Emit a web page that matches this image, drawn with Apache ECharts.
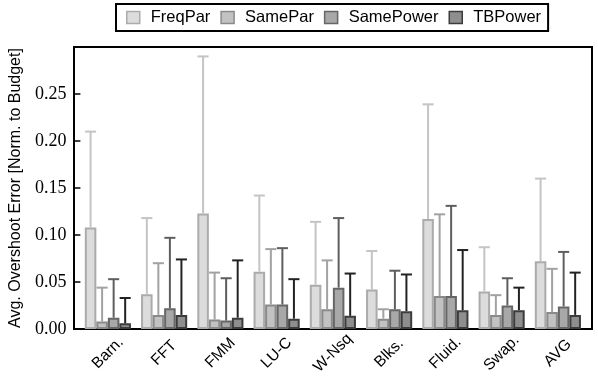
<!DOCTYPE html>
<html>
<head>
<meta charset="utf-8">
<script src="https://cdn.jsdelivr.net/npm/echarts@6/dist/echarts.min.js"></script>
<style>
html,body{margin:0;padding:0;background:#fff;}
#c{width:598px;height:388px;}
</style>
</head>
<body>
<div id="c"></div>
<script>
const categories = ['Barn.', 'FFT', 'FMM', 'LU-C', 'W-Nsq', 'Blks.', 'Fluid.', 'Swap.', 'AVG'];
const seriesNames = ['FreqPar', 'SamePar', 'SamePower', 'TBPower'];
const freqPar        = [0.108, 0.037, 0.123, 0.061, 0.047, 0.042, 0.117, 0.040, 0.072];
const freqParUpper   = [0.210, 0.118, 0.290, 0.142, 0.114, 0.083, 0.239, 0.087, 0.160];
const samePar        = [0.008, 0.015, 0.010, 0.026, 0.021, 0.011, 0.035, 0.015, 0.018];
const sameParUpper   = [0.044, 0.070, 0.060, 0.085, 0.073, 0.021, 0.122, 0.036, 0.064];
const samePower      = [0.012, 0.022, 0.009, 0.026, 0.044, 0.021, 0.035, 0.025, 0.024];
const samePowerUpper = [0.053, 0.097, 0.054, 0.086, 0.118, 0.062, 0.131, 0.054, 0.082];
const tbPower        = [0.006, 0.015, 0.012, 0.011, 0.014, 0.019, 0.020, 0.020, 0.015];
const tbPowerUpper   = [0.033, 0.074, 0.073, 0.053, 0.059, 0.058, 0.084, 0.044, 0.060];
const yTicks = [0, 0.05, 0.10, 0.15, 0.20, 0.25, 0.30];

const values = [freqPar, samePar, samePower, tbPower];
const uppers = [freqParUpper, sameParUpper, samePowerUpper, tbPowerUpper];
const fills = ['#dcdcdc', '#c2c2c2', '#a8a8a8', '#8e8e8e'];
const borders = ['#ababab', '#8a8a8a', '#666666', '#3c3c3c'];
const errColors = ['#c4c4c4', '#a2a2a2', '#5e5e5e', '#222222'];
const CAT_GAP = 0.18;
const SANS = '"Liberation Sans", Arial, sans-serif';
const SERIF = '"Liberation Serif", "Times New Roman", serif';

const series = [];
seriesNames.forEach((name, k) => {
  series.push({
    name: name,
    type: 'bar',
    xAxisIndex: 1, yAxisIndex: 1,
    data: values[k],
    barGap: '0%',
    barCategoryGap: (CAT_GAP * 100) + '%',
    itemStyle: { color: fills[k], borderColor: borders[k], borderWidth: 2 },
    emphasis: { disabled: true },
    z: 2
  });
});
seriesNames.forEach((name, k) => {
  series.push({
    name: name + ' err',
    type: 'custom',
    xAxisIndex: 1, yAxisIndex: 1,
    z: 3,
    data: values[k].map((v, i) => [i, v, uppers[k][i]]),
    encode: { x: 0, y: [1, 2] },
    renderItem: function (params, api) {
      const idx = api.value(0);
      const band = api.size([1, 0])[0];
      const bw = band * (1 - CAT_GAP) / 4;
      const base = api.coord([idx, api.value(1)]);
      const top = api.coord([idx, api.value(2)]);
      const cx = base[0] + (k - 1.5) * bw;
      const half = bw * 0.48;
      const st = { stroke: errColors[k], lineWidth: 2 };
      return {
        type: 'group',
        children: [
          { type: 'line', shape: { x1: cx, y1: base[1], x2: cx, y2: top[1] }, style: st },
          { type: 'line', shape: { x1: cx - half, y1: top[1], x2: cx + half, y2: top[1] }, style: st }
        ]
      };
    }
  });
});

const chart = echarts.init(document.getElementById('c'), null, { renderer: 'canvas' });
chart.setOption({
  animation: false,
  backgroundColor: '#fff',
  legend: {
    data: seriesNames.map(n => ({ name: n, icon: 'rect' })),
    left: 116, top: 4,
    padding: [5, 7, 5, 10],
    itemWidth: 13, itemHeight: 12, itemGap: 10,
    borderColor: '#000', borderWidth: 2,
    itemStyle: { borderWidth: 1.5 },
    textStyle: { fontFamily: SANS, fontSize: 16.5, color: '#000', padding: [0, 0, 0, 6] }
  },
  grid: [
    { left: 74, right: 6, top: 47, bottom: 59, show: true, borderColor: '#000', borderWidth: 2, backgroundColor: 'transparent' },
    { left: 79.35, right: 12, top: 47, bottom: 59 }
  ],
  xAxis: [
    { gridIndex: 0, type: 'value', show: false, min: 0, max: 1 },
    {
      gridIndex: 1, type: 'category', data: categories,
      axisLine: { show: false }, axisTick: { show: false },
      axisLabel: { rotate: 45, align: 'center', verticalAlign: 'middle', margin: 24, fontFamily: SANS, fontSize: 15.5, color: '#000', interval: 0 }
    }
  ],
  yAxis: [
    { gridIndex: 0, type: 'value', show: false, min: 0, max: 1 },
    {
      gridIndex: 1, type: 'value', min: yTicks[0], max: yTicks[yTicks.length - 1], interval: 0.05,
      offset: 5.35,
      axisLine: { show: false },
      axisTick: { show: true, inside: true, length: 6, lineStyle: { color: '#000', width: 1.5 } },
      splitLine: { show: false },
      axisLabel: { showMaxLabel: false, margin: 8, fontFamily: SERIF, fontSize: 18, color: '#000', formatter: v => v.toFixed(2) },
      name: 'Avg. Overshoot Error [Norm. to Budget]',
      nameLocation: 'middle', nameGap: 45,
      nameTextStyle: { fontFamily: SANS, fontSize: 16, color: '#000' }
    }
  ],
  series: series
});
</script>
</body>
</html>
